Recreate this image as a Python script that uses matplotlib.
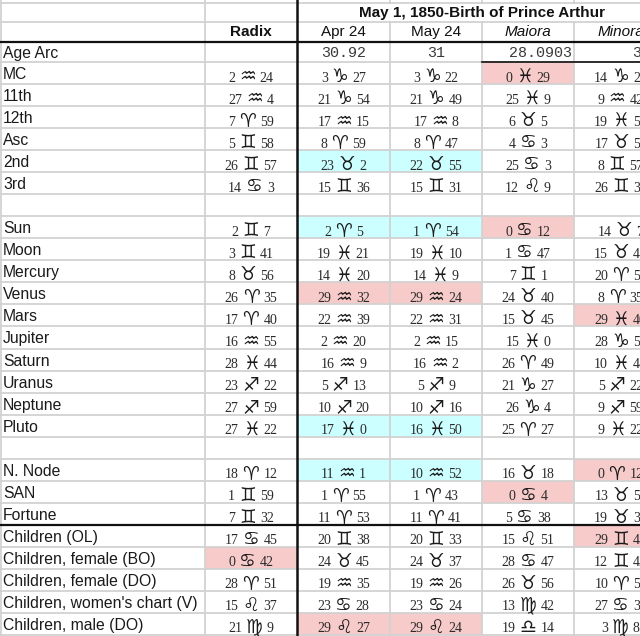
import matplotlib
matplotlib.use('Agg')
import matplotlib.pyplot as plt
from matplotlib.patches import Rectangle

# ---------------- data ----------------
title = "May 1, 1850-Birth of Prince Arthur"
col_headers = ["Radix", "Apr 24", "May 24", "Maiora", "Minora"]
header_styles = ["bold", "normal", "normal", "italic", "italic"]

row_labels = ["Age Arc", "MC", "11th", "12th", "Asc", "2nd", "3rd", "",
              "Sun", "Moon", "Mercury", "Venus", "Mars", "Jupiter", "Saturn",
              "Uranus", "Neptune", "Pluto", "",
              "N. Node", "SAN", "Fortune",
              "Children (OL)", "Children, female (BO)", "Children, female (DO)",
              "Children, women's chart (V)", "Children, male (DO)"]

age_arc = ["", "30.92", "31", "28.0903", "31.0921"]
age_align = ["center", "center", "center", "right", "left"]

radix = ["2 ♒ 24", "27 ♒ 4", "7 ♈ 59", "5 ♊ 58", "26 ♊ 57", "14 ♋ 3", "",
         "2 ♊ 7", "3 ♊ 41", "8 ♉ 56", "26 ♈ 35", "17 ♈ 40", "16 ♒ 55",
         "28 ♓ 44", "23 ♐ 22", "27 ♐ 59", "27 ♓ 22", "",
         "18 ♈ 12", "1 ♊ 59", "7 ♊ 32",
         "17 ♋ 45", "0 ♋ 42", "28 ♈ 51", "15 ♌ 37", "21 ♍ 9"]
apr24 = ["3 ♑ 27", "21 ♑ 54", "17 ♒ 15", "8 ♈ 59", "23 ♉ 2", "15 ♊ 36", "",
         "2 ♈ 5", "19 ♓ 21", "14 ♓ 20", "29 ♒ 32", "22 ♒ 39", "2 ♒ 20",
         "16 ♒ 9", "5 ♐ 13", "10 ♐ 20", "17 ♓ 0", "",
         "11 ♒ 1", "1 ♈ 55", "11 ♈ 53",
         "20 ♊ 38", "24 ♉ 45", "19 ♒ 35", "23 ♋ 28", "29 ♌ 27"]
may24 = ["3 ♑ 22", "21 ♑ 49", "17 ♒ 8", "8 ♈ 47", "22 ♉ 55", "15 ♊ 31", "",
         "1 ♈ 54", "19 ♓ 10", "14 ♓ 9", "29 ♒ 24", "22 ♒ 31", "2 ♒ 15",
         "16 ♒ 2", "5 ♐ 9", "10 ♐ 16", "16 ♓ 50", "",
         "10 ♒ 52", "1 ♈ 43", "11 ♈ 41",
         "20 ♊ 33", "24 ♉ 37", "19 ♒ 26", "23 ♋ 24", "29 ♌ 24"]
maiora = ["0 ♓ 29", "25 ♓ 9", "6 ♉ 5", "4 ♋ 3", "25 ♋ 3", "12 ♌ 9", "",
          "0 ♋ 12", "1 ♋ 47", "7 ♊ 1", "24 ♉ 40", "15 ♉ 45", "15 ♓ 0",
          "26 ♈ 49", "21 ♑ 27", "26 ♑ 4", "25 ♈ 27", "",
          "16 ♉ 18", "0 ♋ 4", "5 ♋ 38",
          "15 ♌ 51", "28 ♋ 47", "26 ♉ 56", "13 ♍ 42", "19 ♎ 14"]
minora = ["14 ♑ 27", "9 ♒ 42", "19 ♓ 59", "17 ♉ 58", "8 ♊ 57", "26 ♊ 36", "",
          "14 ♉ 7", "15 ♉ 41", "20 ♈ 52", "8 ♈ 35", "29 ♓ 40", "28 ♑ 55",
          "10 ♓ 44", "5 ♐ 22", "9 ♐ 59", "9 ♓ 22", "",
          "0 ♈ 12", "13 ♉ 59", "19 ♉ 32",
          "29 ♊ 45", "12 ♊ 42", "10 ♈ 51", "27 ♋ 37", "3 ♍ 8"]
columns = [radix, apr24, may24, maiora, minora]

CYAN = "#CCFFFF"
PINK = "#F8CBCB"
# (column index, row label, colour)
highlights = [
    (3, "MC", PINK),
    (1, "2nd", CYAN), (2, "2nd", CYAN),
    (1, "Sun", CYAN), (2, "Sun", CYAN), (3, "Sun", PINK),
    (1, "Venus", PINK), (2, "Venus", PINK),
    (4, "Mars", PINK),
    (1, "Pluto", CYAN), (2, "Pluto", CYAN),
    (1, "N. Node", CYAN), (2, "N. Node", CYAN), (4, "N. Node", PINK),
    (3, "SAN", PINK),
    (4, "Children (OL)", PINK),
    (0, "Children, female (BO)", PINK),
    (1, "Children, male (DO)", PINK), (2, "Children, male (DO)", PINK),
]

# ---------------- layout ----------------
W, H = 640, 636
fig = plt.figure(figsize=(W / 100, H / 100), dpi=100)
ax = fig.add_axes([0, 0, 1, 1])
ax.set_xlim(0, W)
ax.set_ylim(H, 0)
ax.axis('off')

col_edges = [0, 205, 297, 390, 482, 574, 667]
rh = (635 - 62) / 26.0
row_edges = [42, 62] + [62 + rh * k for k in range(1, 27)]

GRID = "#D2D2D2"
TXT = "#2a2a2a"
SANS = "Liberation Sans"

# highlights
for ci, lab, colr in highlights:
    ri = row_labels.index(lab)
    x0, x1 = col_edges[ci + 1], col_edges[ci + 2]
    y0, y1 = row_edges[ri], row_edges[ri + 1]
    ax.add_patch(Rectangle((x0, y0), x1 - x0, y1 - y0, facecolor=colr,
                           edgecolor='none', zorder=0))

# grid lines
for y in [2.5, 22] + row_edges[1:]:
    ax.plot([0, W], [y, y], color=GRID, lw=1.3, zorder=1, solid_capstyle='butt')
ax.plot([1, 1], [0, H], color=GRID, lw=1.3, zorder=1)
ax.plot([205, 205], [0, H], color=GRID, lw=1.3, zorder=1)
for x in col_edges[3:6]:
    ax.plot([x, x], [22, H], color=GRID, lw=1.3, zorder=1)
    ax.plot([x, x], [0, 2.5], color=GRID, lw=1.3, zorder=1)

# thick lines
ax.plot([0, W], [42, 42], color="#111111", lw=1.6, zorder=2)
ax.plot([0, W], [row_edges[22], row_edges[22]], color="#111111", lw=1.6, zorder=2)
ax.plot([297, 297], [0, H], color="#111111", lw=1.8, zorder=2)
ax.plot([482, W], [62, 62], color="#111111", lw=1.2, zorder=2)

# title and headers
ax.text((297 + 667) / 2, 12.5, title, ha='center', va='center', fontsize=11,
        fontweight='bold', family=SANS, color="#111111")
for i, (h, st) in enumerate(zip(col_headers, header_styles)):
    cx = (col_edges[i + 1] + col_edges[i + 2]) / 2
    ax.text(cx, 32, h, ha='center', va='center', fontsize=11, family=SANS,
            fontweight='bold' if st == 'bold' else 'normal',
            style='italic' if st == 'italic' else 'normal', color="#111111")

# row labels
for ri, lab in enumerate(row_labels):
    if lab:
        cy = (row_edges[ri] + row_edges[ri + 1]) / 2
        ax.text(3, cy + 1.5, lab, ha='left', va='center', fontsize=11.3,
                family=SANS, color="#1a1a1a")

# age arc
for i, (v, al) in enumerate(zip(age_arc, age_align)):
    if not v:
        continue
    x0, x1 = col_edges[i + 1], col_edges[i + 2]
    x = {'center': (x0 + x1) / 2, 'right': x1 - 2, 'left': 632}[al]
    ax.text(x, 53, v, ha=al, va='center', fontsize=10.8,
            family='Liberation Mono', color="#3a3a3a")

# positions
renderer = fig.canvas.get_renderer()
GAP = 4.0
for ci, col in enumerate(columns):
    cx = (col_edges[ci + 1] + col_edges[ci + 2]) / 2
    for k, cell in enumerate(col):
        if not cell:
            continue
        ri = k + 1
        base = row_edges[ri + 1] - 2.5
        deg, sign, mins = cell.split(' ')
        t1 = ax.text(0, base, deg, ha='left', va='baseline', fontsize=10,
                     family='Liberation Serif', color=TXT)
        t2 = ax.text(0, base + 0.5, sign, ha='left', va='baseline', fontsize=13.5,
                     family='DejaVu Sans', color="#1a1a1a")
        t3 = ax.text(0, base, mins, ha='left', va='baseline', fontsize=10,
                     family='Liberation Serif', color=TXT)
        w1 = t1.get_window_extent(renderer).width
        w2 = t2.get_window_extent(renderer).width
        w3 = t3.get_window_extent(renderer).width
        total = w1 + w2 + w3 + 2 * GAP
        x = cx - total / 2
        t1.set_x(x)
        t2.set_x(x + w1 + GAP)
        t3.set_x(x + w1 + GAP + w2 + GAP)

fig.savefig("out.png", dpi=100)
